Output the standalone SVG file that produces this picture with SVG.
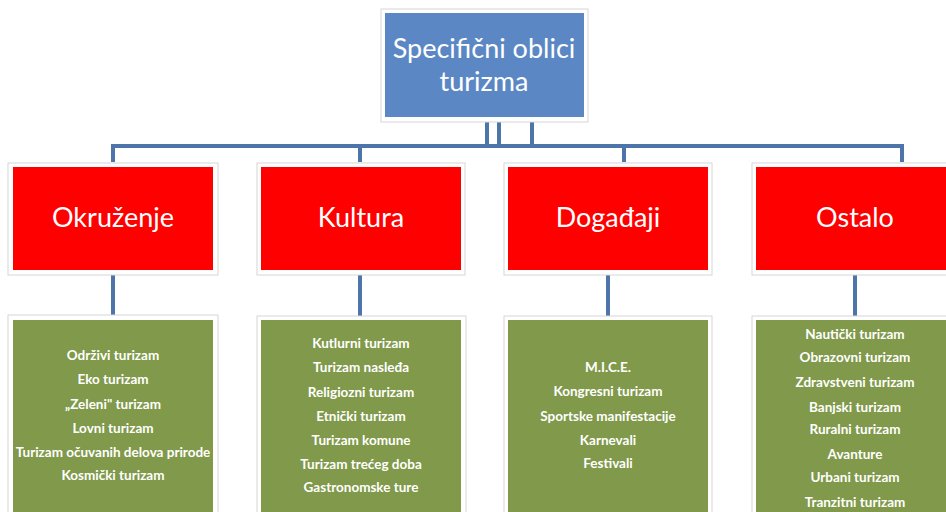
<svg xmlns="http://www.w3.org/2000/svg" width="946" height="512" viewBox="0 0 946 512">
<style>
.frame{fill:#ffffff;stroke:#d6d6d6;stroke-width:1}
.blue{fill:#5b88c4}
.red{fill:#ff0000}
.green{fill:#80994a}
.conn{fill:none;stroke:#4d75aa;stroke-width:4}
.t1{font-family:Lato,"Liberation Sans",sans-serif;font-size:27px;fill:#ffffff;text-anchor:middle}
.t2{font-family:Lato,"Liberation Sans",sans-serif;font-size:27px;fill:#ffffff;text-anchor:middle}
.t3{font-family:Lato,"Liberation Sans",sans-serif;font-size:13.5px;font-weight:bold;fill:#ffffff;text-anchor:middle}
</style>
<rect width="946" height="512" fill="#ffffff"/>
<g id="connectors">
<path class="conn" d="M487 122V146M499 122V146M532 122V146M113 162V146H902V162M360 146V162M624 146V162"/>
<path class="conn" d="M113 275V318M360 275V318M608 275V318M855 275V318"/>
</g>
<g id="root">
<rect class="frame" x="381" y="9" width="207" height="113"/>
<rect class="blue" x="385" y="13" width="199" height="104"/>
<text class="t1" x="484" y="58">Specifični oblici</text>
<text class="t1" x="484" y="91">turizma</text>
</g>
<g id="okruzenje">
<rect class="frame" x="8" y="163" width="210" height="112"/>
<rect class="red" x="13" y="167" width="200" height="103"/>
<text class="t2" x="113" y="227">Okruženje</text>
</g>
<g id="kultura">
<rect class="frame" x="257" y="163" width="208" height="112"/>
<rect class="red" x="261" y="167" width="200" height="103"/>
<text class="t2" x="361" y="227">Kultura</text>
</g>
<g id="dogadjaji">
<rect class="frame" x="504" y="163" width="208" height="112"/>
<rect class="red" x="508" y="167" width="200" height="103"/>
<text class="t2" x="608" y="227">Događaji</text>
</g>
<g id="ostalo">
<rect class="frame" x="752" y="163" width="210" height="112"/>
<rect class="red" x="756" y="167" width="200" height="103"/>
<text class="t2" x="855" y="227">Ostalo</text>
</g>
<g id="okruzenje-list">
<rect class="frame" x="8" y="315" width="210" height="205"/>
<rect class="green" x="13" y="320" width="200" height="200"/>
<text class="t3" x="113" y="360">Održivi turizam</text>
<text class="t3" x="113" y="384">Eko turizam</text>
<text class="t3" x="113" y="409">„Zeleni" turizam</text>
<text class="t3" x="113" y="433">Lovni turizam</text>
<text class="t3" x="113" y="457">Turizam očuvanih delova prirode</text>
<text class="t3" x="113" y="480">Kosmički turizam</text>
</g>
<g id="kultura-list">
<rect class="frame" x="257" y="316" width="209" height="205"/>
<rect class="green" x="261" y="320" width="200" height="200"/>
<text class="t3" x="361" y="348">Kutlurni turizam</text>
<text class="t3" x="361" y="372">Turizam nasleđa</text>
<text class="t3" x="361" y="397">Religiozni turizam</text>
<text class="t3" x="361" y="421">Etnički turizam</text>
<text class="t3" x="361" y="445">Turizam komune</text>
<text class="t3" x="361" y="469">Turizam trećeg doba</text>
<text class="t3" x="361" y="492">Gastronomske ture</text>
</g>
<g id="dogadjaji-list">
<rect class="frame" x="504" y="316" width="208" height="205"/>
<rect class="green" x="508" y="320" width="200" height="200"/>
<text class="t3" x="608" y="372">M.I.C.E.</text>
<text class="t3" x="608" y="396">Kongresni turizam</text>
<text class="t3" x="608" y="421">Sportske manifestacije</text>
<text class="t3" x="608" y="445">Karnevali</text>
<text class="t3" x="608" y="468">Festivali</text>
</g>
<g id="ostalo-list">
<rect class="frame" x="752" y="316" width="210" height="205"/>
<rect class="green" x="756" y="320" width="200" height="200"/>
<text class="t3" x="855" y="339">Nautički turizam</text>
<text class="t3" x="855" y="362">Obrazovni turizam</text>
<text class="t3" x="855" y="387">Zdravstveni turizam</text>
<text class="t3" x="855" y="412">Banjski turizam</text>
<text class="t3" x="855" y="434">Ruralni turizam</text>
<text class="t3" x="855" y="459">Avanture</text>
<text class="t3" x="855" y="482">Urbani turizam</text>
<text class="t3" x="855" y="507">Tranzitni turizam</text>
</g>
</svg>
